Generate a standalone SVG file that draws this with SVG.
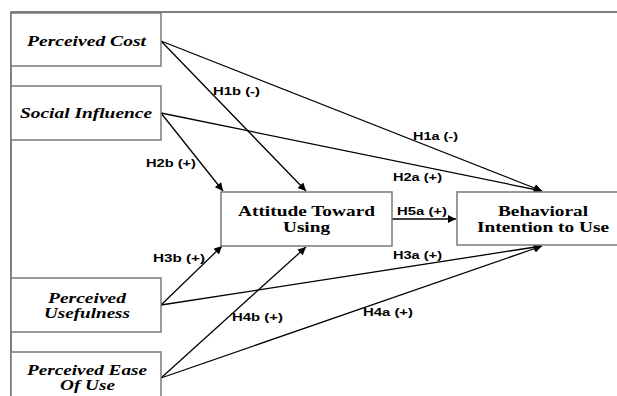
<svg xmlns="http://www.w3.org/2000/svg" width="617" height="396" viewBox="0 0 617 396">
<defs>
<marker id="ah" viewBox="0 0 10 10" refX="10" refY="5" markerWidth="11" markerHeight="8" markerUnits="userSpaceOnUse" orient="auto">
<path d="M0,0 L10,5 L0,10 Z" fill="#000"/>
</marker>
<style>
.box{fill:#fff;stroke:#7a7a7a;stroke-width:1.5}
.frame{stroke:#555;stroke-width:1.5;fill:none}
.lt{font-family:"Liberation Serif",serif;font-weight:bold;font-style:italic;font-size:14px;fill:#000}
.ct{font-family:"Liberation Serif",serif;font-weight:bold;font-size:15px;fill:#000}
.lbl{font-family:"Liberation Sans",Arial,sans-serif;font-weight:bold;font-size:11px;fill:#000}
.ed{stroke:#000;stroke-width:1.3;fill:none;marker-end:url(#ah)}
</style>
</defs>
<rect width="617" height="396" fill="#fff"/>
<path class="frame" d="M11,396 V12 H617"/>
<g id="connectors">
<line class="ed" x1="161" y1="41" x2="306" y2="191"/>
<line class="ed" x1="161" y1="41" x2="542" y2="191"/>
<line class="ed" x1="161" y1="113" x2="223" y2="191"/>
<line class="ed" x1="161" y1="113" x2="542" y2="191"/>
<line class="ed" x1="392" y1="219" x2="456" y2="219"/>
<line class="ed" x1="161" y1="305" x2="222" y2="246"/>
<line class="ed" x1="161" y1="305" x2="542" y2="246"/>
<line class="ed" x1="161" y1="378" x2="306" y2="247"/>
<line class="ed" x1="161" y1="378" x2="542" y2="246"/>
<text class="lbl" x="213" y="95" textLength="47" lengthAdjust="spacingAndGlyphs">H1b (-)</text>
<text class="lbl" x="413" y="140" textLength="45" lengthAdjust="spacingAndGlyphs">H1a (-)</text>
<text class="lbl" x="146" y="167" textLength="50" lengthAdjust="spacingAndGlyphs">H2b (+)</text>
<text class="lbl" x="393" y="181" textLength="49" lengthAdjust="spacingAndGlyphs">H2a (+)</text>
<text class="lbl" x="397" y="215" textLength="50" lengthAdjust="spacingAndGlyphs">H5a (+)</text>
<text class="lbl" x="393" y="259" textLength="49" lengthAdjust="spacingAndGlyphs">H3a (+)</text>
<text class="lbl" x="153" y="262" textLength="52" lengthAdjust="spacingAndGlyphs">H3b (+)</text>
<text class="lbl" x="232" y="321" textLength="51" lengthAdjust="spacingAndGlyphs">H4b (+)</text>
<text class="lbl" x="363" y="316" textLength="50" lengthAdjust="spacingAndGlyphs">H4a (+)</text>
</g>
<g id="pc">
<rect class="box" x="11" y="13" width="150" height="53"/>
<text class="lt" x="27" y="46" textLength="119" lengthAdjust="spacingAndGlyphs">Perceived Cost</text>
</g>
<g id="si">
<rect class="box" x="11" y="86" width="150" height="54"/>
<text class="lt" x="20" y="118" textLength="132" lengthAdjust="spacingAndGlyphs">Social Influence</text>
</g>
<g id="pu">
<rect class="box" x="11" y="278" width="150" height="54"/>
<text class="lt" x="48" y="303" textLength="78" lengthAdjust="spacingAndGlyphs">Perceived</text>
<text class="lt" x="44" y="318" textLength="86" lengthAdjust="spacingAndGlyphs">Usefulness</text>
</g>
<g id="peou">
<rect class="box" x="11" y="352" width="150" height="60"/>
<text class="lt" x="27" y="375" textLength="120" lengthAdjust="spacingAndGlyphs">Perceived Ease</text>
<text class="lt" x="60" y="390" textLength="55" lengthAdjust="spacingAndGlyphs">Of Use</text>
</g>
<g id="atu">
<rect class="box" x="221" y="192" width="171" height="54"/>
<text class="ct" x="238" y="216" textLength="137" lengthAdjust="spacingAndGlyphs">Attitude Toward</text>
<text class="ct" x="283" y="232" textLength="47" lengthAdjust="spacingAndGlyphs">Using</text>
</g>
<g id="bi">
<rect class="box" x="457" y="192" width="170" height="53"/>
<text class="ct" x="498" y="216" textLength="90" lengthAdjust="spacingAndGlyphs">Behavioral</text>
<text class="ct" x="477" y="232" textLength="132" lengthAdjust="spacingAndGlyphs">Intention to Use</text>
</g>
</svg>
